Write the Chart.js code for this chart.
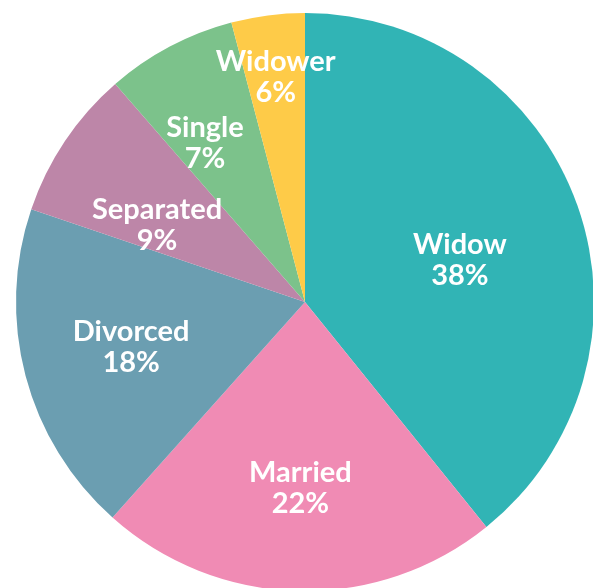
<!DOCTYPE html>
<html>
<head>
<meta charset="utf-8">
<script src="https://cdn.jsdelivr.net/npm/chart.js@4/dist/chart.umd.min.js"></script>
<style>
  html, body { margin: 0; padding: 0; background: #ffffff; overflow: hidden; }
  #wrap { position: absolute; left: 0; top: 0; width: 594px; height: 591px; }
</style>
</head>
<body>
<div id="wrap"><canvas id="c"></canvas></div>
<script>
// Data
const categories = ['Widow', 'Married', 'Divorced', 'Separated', 'Single', 'Widower'];
const shares = [39.2, 22.4, 18.6, 8.4, 7.3, 4.1];          // slice sizes (from geometry)
const pctLabels = ['38%', '22%', '18%', '9%', '7%', '6%'];  // printed labels

const colors = ['#31B4B5', '#F08BB4', '#6B9EB1', '#BD86A8', '#7CC28B', '#FECB48'];

// label placement: radial fraction and angle offset (degrees) per slice
const labelRadius = [0.557, 0.637, 0.62, 0.58, 0.653, 0.789];
const labelAngleOffset = [3.6, 0, 0.75, -5.8, -4.1, 0];

const labelPlugin = {
  id: 'sliceLabels',
  afterDatasetsDraw(chart) {
    const ctx = chart.ctx;
    const meta = chart.getDatasetMeta(0);
    ctx.save();
    ctx.fillStyle = '#ffffff';
    ctx.font = 'bold 29px Lato';
    ctx.textAlign = 'center';
    ctx.textBaseline = 'alphabetic';
    meta.data.forEach((arc, i) => {
      const p = arc.getProps(['x', 'y', 'startAngle', 'endAngle', 'outerRadius'], true);
      const mid = (p.startAngle + p.endAngle) / 2 + labelAngleOffset[i] * Math.PI / 180;
      const r = p.outerRadius * labelRadius[i];
      const cx = p.x + Math.cos(mid) * r;
      const cy = p.y + Math.sin(mid) * r;
      ctx.fillText(categories[i], cx, cy - 4.5);
      ctx.fillText(pctLabels[i], cx, cy + 26.5);
    });
    ctx.restore();
  }
};

new Chart(document.getElementById('c'), {
  type: 'pie',
  data: {
    labels: categories,
    datasets: [{
      data: shares,
      backgroundColor: colors,
      borderWidth: 0
    }]
  },
  options: {
    responsive: true,
    maintainAspectRatio: false,
    animation: false,
    layout: { padding: { left: 16, top: 13, right: 0, bottom: 0 } },
    plugins: {
      legend: { display: false },
      tooltip: { enabled: false }
    }
  },
  plugins: [labelPlugin]
});
</script>
</body>
</html>
